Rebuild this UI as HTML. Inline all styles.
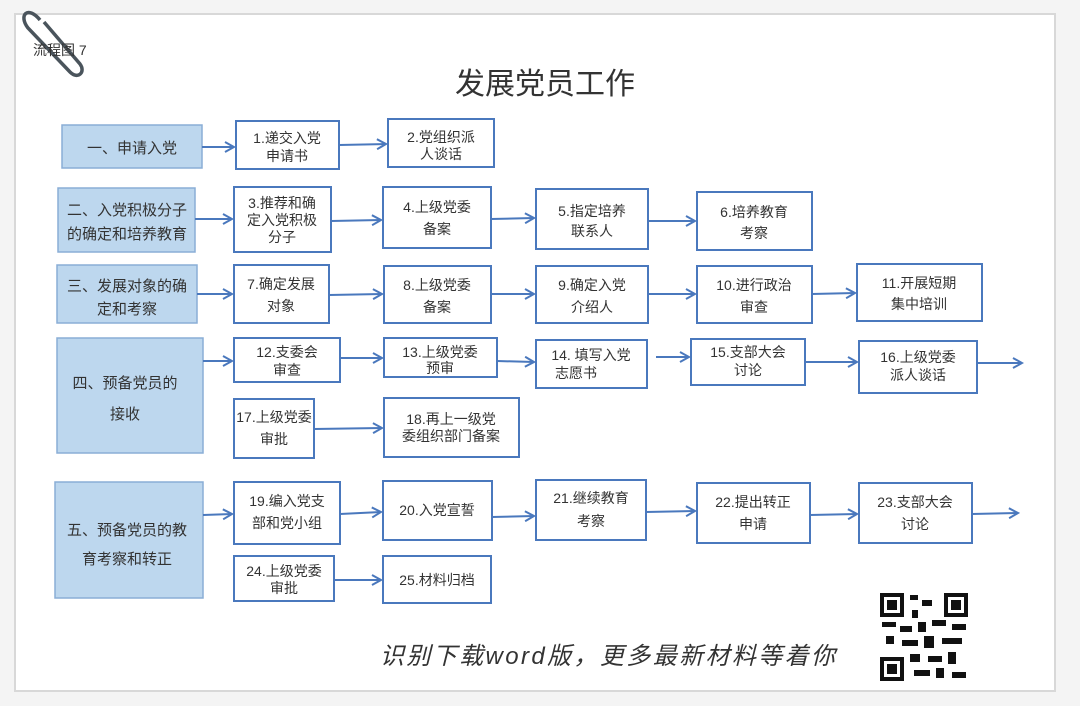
<!DOCTYPE html>
<html><head><meta charset="utf-8"><style>
html,body{margin:0;padding:0;background:#fff;}
svg{display:block;}
text{font-family:"Liberation Sans","Noto Sans CJK SC",sans-serif;fill:#333;}
</style></head><body>
<svg width="1080" height="706" viewBox="0 0 1080 706" xmlns="http://www.w3.org/2000/svg">
<defs>
<marker id="a" markerWidth="12" markerHeight="12" refX="10" refY="6" orient="auto" markerUnits="userSpaceOnUse">
<path d="M1,1 L10,6 L1,11" fill="none" stroke="#4a78bd" stroke-width="2"/></marker>
</defs>
<rect x="0" y="0" width="1080" height="706" fill="#f4f4f4"/>
<rect x="15" y="14" width="1040" height="677" fill="#fff" stroke="#d8d8d8" stroke-width="2"/>
<path d="M40,20 C28,5 18,15 28,28 L70,72 C78,80 86,72 80,64 L44,22" fill="none" stroke="#4a545c" stroke-width="3.5"/>
<text x="33" y="55" font-size="14" fill="#222">流程图 7</text>
<text x="545" y="94" font-size="30" text-anchor="middle" fill="#222">发展党员工作</text>

<g fill="#bdd7ee" stroke="#8aaed6" stroke-width="1.5">
<rect x="62" y="125" width="140" height="43"/>
<rect x="58" y="188" width="137" height="64"/>
<rect x="57" y="265" width="140" height="58"/>
<rect x="57" y="338" width="146" height="115"/>
<rect x="55" y="482" width="148" height="116"/>
</g>
<g font-size="15" text-anchor="middle">
<text x="132" y="153">一、申请入党</text>
<text x="127" y="215">二、入党积极分子</text><text x="127" y="239">的确定和培养教育</text>
<text x="127" y="291">三、发展对象的确</text><text x="127" y="314">定和考察</text>
<text x="125" y="388">四、预备党员的</text><text x="125" y="419">接收</text>
<text x="127" y="535">五、预备党员的教</text><text x="127" y="564">育考察和转正</text>
</g>

<g fill="#fff" stroke="#4a78bd" stroke-width="2">
<rect x="236" y="121" width="103" height="48"/>
<rect x="388" y="119" width="106" height="48"/>
<rect x="234" y="187" width="97" height="65"/>
<rect x="383" y="187" width="108" height="61"/>
<rect x="536" y="189" width="112" height="60"/>
<rect x="697" y="192" width="115" height="58"/>
<rect x="234" y="265" width="95" height="58"/>
<rect x="384" y="266" width="107" height="57"/>
<rect x="536" y="266" width="112" height="57"/>
<rect x="697" y="266" width="115" height="57"/>
<rect x="857" y="264" width="125" height="57"/>
<rect x="234" y="338" width="106" height="44"/>
<rect x="384" y="338" width="113" height="39"/>
<rect x="536" y="340" width="111" height="48"/>
<rect x="691" y="339" width="114" height="46"/>
<rect x="859" y="341" width="118" height="52"/>
<rect x="234" y="399" width="80" height="59"/>
<rect x="384" y="398" width="135" height="59"/>
<rect x="234" y="482" width="106" height="62"/>
<rect x="383" y="481" width="109" height="59"/>
<rect x="536" y="480" width="110" height="60"/>
<rect x="697" y="483" width="113" height="60"/>
<rect x="859" y="483" width="113" height="60"/>
<rect x="234" y="556" width="100" height="45"/>
<rect x="383" y="556" width="108" height="47"/>
</g>

<g font-size="14" text-anchor="middle">
<text x="287" y="143">1.递交入党</text><text x="287" y="161">申请书</text>
<text x="441" y="142">2.党组织派</text><text x="441" y="159">人谈话</text>
<text x="282" y="208">3.推荐和确</text><text x="282" y="225">定入党积极</text><text x="282" y="242">分子</text>
<text x="437" y="212">4.上级党委</text><text x="437" y="234">备案</text>
<text x="592" y="216">5.指定培养</text><text x="592" y="236">联系人</text>
<text x="754" y="217">6.培养教育</text><text x="754" y="238">考察</text>
<text x="281" y="289">7.确定发展</text><text x="281" y="311">对象</text>
<text x="437" y="290">8.上级党委</text><text x="437" y="312">备案</text>
<text x="592" y="290">9.确定入党</text><text x="592" y="312">介绍人</text>
<text x="754" y="290">10.进行政治</text><text x="754" y="312">审查</text>
<text x="919" y="288">11.开展短期</text><text x="919" y="309">集中培训</text>
<text x="287" y="357">12.支委会</text><text x="287" y="375">审查</text>
<text x="440" y="357">13.上级党委</text><text x="440" y="373">预审</text>
<text x="591" y="360">14. 填写入党</text><text x="576" y="378">志愿书</text>
<text x="748" y="357">15.支部大会</text><text x="748" y="375">讨论</text>
<text x="918" y="362">16.上级党委</text><text x="918" y="380">派人谈话</text>
<text x="274" y="422">17.上级党委</text><text x="274" y="444">审批</text>
<text x="451" y="424">18.再上一级党</text><text x="451" y="441">委组织部门备案</text>
<text x="287" y="506">19.编入党支</text><text x="287" y="528">部和党小组</text>
<text x="437" y="515">20.入党宣誓</text>
<text x="591" y="503">21.继续教育</text><text x="591" y="526">考察</text>
<text x="753" y="507">22.提出转正</text><text x="753" y="529">申请</text>
<text x="915" y="507">23.支部大会</text><text x="915" y="529">讨论</text>
<text x="284" y="576">24.上级党委</text><text x="284" y="593">审批</text>
<text x="437" y="585">25.材料归档</text>
</g>

<g stroke="#4a78bd" stroke-width="2" marker-end="url(#a)">
<line x1="202" y1="147" x2="234" y2="147"/>
<line x1="339" y1="145" x2="386" y2="144"/>
<line x1="195" y1="219" x2="232" y2="219"/>
<line x1="331" y1="221" x2="381" y2="220"/>
<line x1="491" y1="219" x2="534" y2="218"/>
<line x1="648" y1="221" x2="695" y2="221"/>
<line x1="197" y1="294" x2="232" y2="294"/>
<line x1="329" y1="295" x2="382" y2="294"/>
<line x1="491" y1="294" x2="534" y2="294"/>
<line x1="648" y1="294" x2="695" y2="294"/>
<line x1="812" y1="294" x2="855" y2="293"/>
<line x1="203" y1="361" x2="232" y2="361"/>
<line x1="340" y1="358" x2="382" y2="358"/>
<line x1="497" y1="361" x2="534" y2="362"/>
<line x1="656" y1="357" x2="689" y2="357"/>
<line x1="805" y1="362" x2="857" y2="362"/>
<line x1="977" y1="363" x2="1022" y2="363"/>
<line x1="314" y1="429" x2="382" y2="428"/>
<line x1="203" y1="515" x2="232" y2="514"/>
<line x1="340" y1="514" x2="381" y2="512"/>
<line x1="492" y1="517" x2="534" y2="516"/>
<line x1="646" y1="512" x2="695" y2="511"/>
<line x1="810" y1="515" x2="857" y2="514"/>
<line x1="972" y1="514" x2="1018" y2="513"/>
<line x1="334" y1="580" x2="381" y2="580"/>
</g>

<text x="380" y="664" font-size="24" fill="#222" font-style="italic" textLength="455" lengthAdjust="spacing">识别下载word版，更多最新材料等着你</text>

<g fill="#111">
<rect x="880" y="593" width="88" height="88" fill="#fff"/>
<rect x="880" y="593" width="24" height="24"/><rect x="884" y="597" width="16" height="16" fill="#fff"/><rect x="887" y="600" width="10" height="10"/>
<rect x="944" y="593" width="24" height="24"/><rect x="948" y="597" width="16" height="16" fill="#fff"/><rect x="951" y="600" width="10" height="10"/>
<rect x="880" y="657" width="24" height="24"/><rect x="884" y="661" width="16" height="16" fill="#fff"/><rect x="887" y="664" width="10" height="10"/>
<rect x="910" y="595" width="8" height="5"/><rect x="922" y="600" width="10" height="6"/><rect x="912" y="610" width="6" height="8"/>
<rect x="882" y="622" width="14" height="5"/><rect x="900" y="626" width="12" height="6"/><rect x="918" y="622" width="8" height="10"/>
<rect x="932" y="620" width="14" height="6"/><rect x="952" y="624" width="14" height="6"/><rect x="886" y="636" width="8" height="8"/>
<rect x="902" y="640" width="16" height="6"/><rect x="924" y="636" width="10" height="12"/><rect x="942" y="638" width="20" height="6"/>
<rect x="910" y="654" width="10" height="8"/><rect x="928" y="656" width="14" height="6"/><rect x="948" y="652" width="8" height="12"/>
<rect x="914" y="670" width="16" height="6"/><rect x="936" y="668" width="8" height="10"/><rect x="952" y="672" width="14" height="6"/>
</g>
</svg>
</body></html>
